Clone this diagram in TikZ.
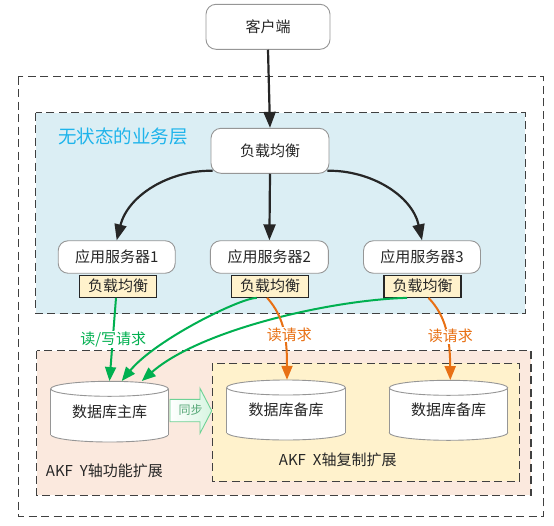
\documentclass[tikz,border=0pt]{standalone}
\usepackage{fontspec}
\setmainfont{Noto Sans CJK SC}
\usetikzlibrary{arrows.meta,calc}
\definecolor{bluefill}{RGB}{219,238,244}
\definecolor{orangefill}{RGB}{251,233,222}
\definecolor{yellowfill}{RGB}{255,242,204}
\definecolor{gline}{RGB}{0,176,80}
\definecolor{oline}{RGB}{232,112,20}
\definecolor{titleblue}{RGB}{30,180,235}
\definecolor{dashgray}{RGB}{64,64,64}
\definecolor{boxgray}{RGB}{150,150,150}
\definecolor{txt}{RGB}{38,38,38}
\definecolor{syncg}{RGB}{110,210,150}
\definecolor{syncfill}{RGB}{215,245,225}
\newcommand\fs{\fontsize{15pt}{18pt}\selectfont}
\newcommand\dbcyl[4]{%
  \filldraw[cyl] (#1,#3-7.5) ellipse[x radius=#4, y radius=7.5];
  \fill[white] (#1-#4,#2+7.5) rectangle (#1+#4,#3-7.5);
  \draw[cyl] (#1-#4,#2+7.5) -- (#1-#4,#3-7.5) (#1+#4,#2+7.5) -- (#1+#4,#3-7.5);
  \filldraw[cyl] (#1,#2+7.5) ellipse[x radius=#4, y radius=7.5];
}
\tikzset{
  region/.style={draw=dashgray, line width=1.5pt, dash pattern=on 8pt off 4.5pt},
  rbox/.style={draw=boxgray, line width=0.9pt, fill=white, rounded corners=10pt, inner sep=0pt, text=txt, font=\fs},
  lbbox/.style={draw=black!85, line width=1.3pt, fill=yellowfill, inner sep=0pt, minimum width=77pt, minimum height=22pt, text=txt, font=\fs},
  blackarrow/.style={draw=black!85, line width=2.2pt, -{Triangle[length=16pt,width=12pt]}},
  greenarrow/.style={draw=gline, line width=2pt, -{Triangle[length=14pt,width=11pt]}},
  orangearrow/.style={draw=oline, line width=2pt, -{Triangle[length=14pt,width=11pt]}},
  cyl/.style={draw=boxgray, line width=0.9pt, fill=white},
  dbnode/.style={inner sep=0pt, text=txt, font=\fs},
  lbl/.style={fill=white, inner sep=0.5pt, font=\fs},
  plain/.style={inner sep=0pt, anchor=west, text=txt, font=\fs},
}
\begin{document}
\begin{tikzpicture}[x=1pt,y=-1pt]
\useasboundingbox (0,0) rectangle (554,525);
% regions
\draw[region] (18.3,76.7) rectangle (543.7,516.3);
\filldraw[region, fill=bluefill] (35.7,112.7) rectangle (525.3,313.7);
\filldraw[region, fill=orangefill] (36.7,350.7) rectangle (531,495.3);
\filldraw[region, fill=yellowfill] (212.3,363.3) rectangle (519.3,481.3);
\node[inner sep=0pt, anchor=west, text=titleblue, font=\fontsize{18.5pt}{22pt}\selectfont] (title) at (58,136.7) {无状态的业务层};
\node[plain] (akfy) at (45.7,471.3) {AKF\hspace{7pt}Y轴功能扩展};
\node[plain] (akfx) at (278.7,459.7) {AKF\hspace{7pt}X轴复制扩展};
% cylinders
\dbcyl{109.5}{381.3}{442}{58.8}
\dbcyl{286}{380}{440}{59.3}
\dbcyl{448.5}{380.3}{440.3}{59.2}
\node[dbnode, minimum width=117.6pt, minimum height=60.7pt] (dbm) at (109.5,411.6) {数据库主库};
\node[dbnode, minimum width=118.6pt, minimum height=60pt] (dbs1) at (286,410) {数据库备库};
\node[dbnode, minimum width=118.4pt, minimum height=60pt] (dbs2) at (448.5,410.3) {数据库备库};
% sync arrow
\path[draw=syncg, line width=0.9pt, left color=white, right color=syncfill]
  (170,399.3) -- (200,399.3) -- (200,388.3) -- (211.7,410.8) -- (200,433.3) -- (200,421.7) -- (170,421.7) -- cycle;
\node[inner sep=0pt, text=syncg!80!black, font=\fontsize{12pt}{14pt}\selectfont] (sync) at (190.5,409.5) {同步};
% boxes
\node[rbox, minimum width=124pt, minimum height=45pt] (client) at (268,26.8) {客户端};
\node[rbox, minimum width=118pt, minimum height=45pt] (lb) at (270,150.8) {负载均衡};
\node[rbox, minimum width=117pt, minimum height=32.5pt] (app1) at (116.7,257) {应用服务器1};
\node[rbox, minimum width=118pt, minimum height=32.5pt] (app2) at (269.4,257) {应用服务器2};
\node[rbox, minimum width=117pt, minimum height=32.5pt] (app3) at (422,257) {应用服务器3};
\node[lbbox] (lb1) at (118,286.2) {负载均衡};
\node[lbbox] (lb2) at (270.2,286.2) {负载均衡};
\node[lbbox] (lb3) at (422.5,286.2) {负载均衡};
% black arrows
\draw[blackarrow] (client.south) -- (lb.north);
\draw[blackarrow] (lb.south) -- (app2.north);
\draw[blackarrow] ($(lb.south west)+(2,-3)$) .. controls (170,170) and (128,195) .. (app1.north);
\draw[blackarrow] ($(lb.south east)+(-2,-3)$) .. controls (370,170) and (412,195) .. (app3.north);
% green arrows
\draw[greenarrow] ($(lb1.south)+(-2,0)$) -- (dbm.north);
\draw[greenarrow] ($(lb2.south)+(-13.5,0)$) .. controls (240,298) and (155,340) .. ($(dbm.north)+(12.2,0)$);
\draw[greenarrow] ($(lb3.south)+(-15.5,0)$) .. controls (330,300) and (200,330) .. ($(dbm.north)+(32.2,0)$);
% orange arrows
\draw[orangearrow] ($(lb2.south)+(-3,0)$) .. controls (285,318) and (287,340) .. ($(dbs1.north)+(1,0)$);
\draw[orangearrow] ($(lb3.south)+(6,0)$) .. controls (446,316) and (450,338) .. ($(dbs2.north)+(1.8,0)$);
% connector labels
\node[lbl, text=gline] (rw) at (113.3,339.5) {读/写请求};
\node[lbl, text=oline] (r1) at (289.4,334.5) {读请求};
\node[lbl, text=oline] (r2) at (450.3,336.3) {读请求};
\end{tikzpicture}
\end{document}
